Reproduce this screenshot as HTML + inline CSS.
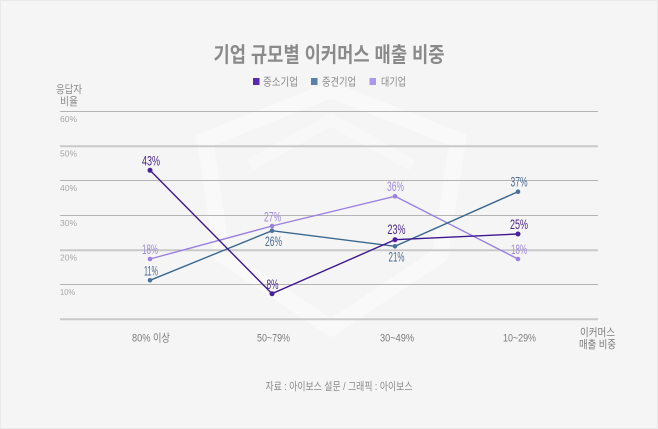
<!DOCTYPE html>
<html>
<head>
<meta charset="utf-8">
<style>
  html,body{margin:0;padding:0;background:#f5f5f5;}
  body{width:658px;height:429px;overflow:hidden;}
  svg{display:block;}
  text{font-family:"Liberation Sans","Noto Sans CJK KR",sans-serif;}
</style>
</head>
<body>
<svg width="658" height="429" viewBox="0 0 658 429" xmlns="http://www.w3.org/2000/svg">
  <rect x="0" y="0" width="658" height="429" fill="#f5f5f5"/>
  <rect x="0.5" y="0.5" width="657" height="428" fill="none" stroke="#e9e9e9" stroke-width="1"/>

  <!-- faint watermark -->
  <g fill="none" stroke="#f9f9f9" stroke-width="16" stroke-linejoin="miter">
    <polygon points="205,140 331,90 458,140 440,255 331,328 222,255"/>
  </g>
  <g fill="none" stroke="#f8f8f8" stroke-width="12">
    <polyline points="250,165 331,120 412,165"/>
  </g>

  <!-- title -->
  <text x="329" y="62" text-anchor="middle" font-size="21" font-weight="bold" fill="#8a8a8a" textLength="231" lengthAdjust="spacingAndGlyphs">기업 규모별 이커머스 매출 비중</text>

  <!-- legend -->
  <rect x="253" y="78" width="6.5" height="7" fill="#5a2bb0"/>
  <text x="263" y="85.5" font-size="11" fill="#8a8a8a" textLength="35" lengthAdjust="spacingAndGlyphs">중소기업</text>
  <rect x="311" y="78" width="6.5" height="7" fill="#5a7fa8"/>
  <text x="322" y="85.5" font-size="11" fill="#8a8a8a" textLength="34" lengthAdjust="spacingAndGlyphs">중견기업</text>
  <rect x="369.5" y="78" width="6.5" height="7" fill="#ab98ea"/>
  <text x="381" y="85.5" font-size="11" fill="#8a8a8a" textLength="25" lengthAdjust="spacingAndGlyphs">대기업</text>

  <!-- y axis title -->
  <text x="69" y="93" text-anchor="middle" font-size="11" fill="#8a8a8a" textLength="26" lengthAdjust="spacingAndGlyphs">응답자</text>
  <text x="69" y="105" text-anchor="middle" font-size="11" fill="#8a8a8a" textLength="18" lengthAdjust="spacingAndGlyphs">비율</text>

  <!-- gridlines -->
  <g stroke="#b4b4b4" stroke-width="1">
    <line x1="60" y1="111.5" x2="598" y2="111.5"/>
    <line x1="60" y1="146" x2="598" y2="146"/>
    <line x1="60" y1="180.5" x2="598" y2="180.5"/>
    <line x1="60" y1="215.5" x2="598" y2="215.5"/>
    <line x1="60" y1="250" x2="598" y2="250"/>
    <line x1="60" y1="284.5" x2="598" y2="284.5"/>
    <line x1="60" y1="319" x2="598" y2="319"/>
  </g>
  <g stroke="#dedede" stroke-width="1">
    <line x1="60" y1="147" x2="598" y2="147"/>
    <line x1="60" y1="251" x2="598" y2="251"/>
    <line x1="60" y1="320" x2="598" y2="320"/>
  </g>

  <!-- y tick labels -->
  <g font-size="8.5" fill="#a6a6a6">
    <text x="60" y="122" textLength="17" lengthAdjust="spacingAndGlyphs">60%</text>
    <text x="60" y="156.5" textLength="17" lengthAdjust="spacingAndGlyphs">50%</text>
    <text x="60" y="191" textLength="17" lengthAdjust="spacingAndGlyphs">40%</text>
    <text x="60" y="226" textLength="17" lengthAdjust="spacingAndGlyphs">30%</text>
    <text x="60" y="260.5" textLength="17" lengthAdjust="spacingAndGlyphs">20%</text>
    <text x="60" y="295" textLength="15" lengthAdjust="spacingAndGlyphs">10%</text>
  </g>

  <!-- series: 대기업 (light purple) -->
  <polyline points="150,259 272,226 395,196.3 518,259" fill="none" stroke="#9b80e2" stroke-width="1.4"/>
  <g fill="#9b80e2">
    <circle cx="150" cy="259" r="2.3"/><circle cx="272" cy="226" r="2.3"/>
    <circle cx="395" cy="196.3" r="2.3"/><circle cx="518" cy="259" r="2.3"/>
  </g>

  <!-- series: 중견기업 (steel blue) -->
  <polyline points="150,280.3 272,230.7 395,246.3 518,191.7" fill="none" stroke="#3b6890" stroke-width="1.4"/>
  <g fill="#4a729a">
    <circle cx="150" cy="280.3" r="2.3"/><circle cx="272" cy="230.7" r="2.3"/>
    <circle cx="395" cy="246.3" r="2.3"/><circle cx="518" cy="191.7" r="2.3"/>
  </g>

  <!-- series: 중소기업 (dark purple) -->
  <polyline points="150,170.3 272,293.7 395,239.7 518,234" fill="none" stroke="#3f1890" stroke-width="1.4"/>
  <g fill="#4a1f9a">
    <circle cx="150" cy="170.3" r="2.5"/><circle cx="272" cy="293.7" r="2.5"/>
    <circle cx="395" cy="239.7" r="2.5"/><circle cx="518" cy="234" r="2.5"/>
  </g>

  <!-- data labels -->
  <g font-size="13.5" text-anchor="middle">
    <text x="151" y="165.5" fill="#4a2690" textLength="18" lengthAdjust="spacingAndGlyphs">43%</text>
    <text x="150" y="254" fill="#a08ae2" textLength="16" lengthAdjust="spacingAndGlyphs">18%</text>
    <text x="151" y="275.5" fill="#4a6a92" textLength="14" lengthAdjust="spacingAndGlyphs">11%</text>

    <text x="272.5" y="221.5" fill="#a08ae2" textLength="17" lengthAdjust="spacingAndGlyphs">27%</text>
    <text x="273.5" y="246" fill="#4a6a92" textLength="17" lengthAdjust="spacingAndGlyphs">26%</text>
    <text x="272.5" y="289" fill="#4a2690" textLength="12" lengthAdjust="spacingAndGlyphs">8%</text>

    <text x="395.5" y="191" fill="#a08ae2" textLength="17" lengthAdjust="spacingAndGlyphs">36%</text>
    <text x="396.5" y="234" fill="#4a2690" textLength="18" lengthAdjust="spacingAndGlyphs">23%</text>
    <text x="396.5" y="261.5" fill="#4a6a92" textLength="16" lengthAdjust="spacingAndGlyphs">21%</text>

    <text x="519" y="186.5" fill="#4a6a92" textLength="17" lengthAdjust="spacingAndGlyphs">37%</text>
    <text x="519" y="229" fill="#4a2690" textLength="18" lengthAdjust="spacingAndGlyphs">25%</text>
    <text x="519" y="254" fill="#a08ae2" textLength="16" lengthAdjust="spacingAndGlyphs">18%</text>
  </g>

  <!-- x labels -->
  <g font-size="11" fill="#7c7c7c" text-anchor="middle">
    <text x="151" y="341.5" textLength="38" lengthAdjust="spacingAndGlyphs">80% 이상</text>
    <text x="273.5" y="341.5" textLength="33" lengthAdjust="spacingAndGlyphs">50~79%</text>
    <text x="397" y="341.5" textLength="34" lengthAdjust="spacingAndGlyphs">30~49%</text>
    <text x="519.5" y="341.5" textLength="33" lengthAdjust="spacingAndGlyphs">10~29%</text>
    <text x="597.5" y="336" textLength="35" lengthAdjust="spacingAndGlyphs">이커머스</text>
    <text x="597.5" y="348" textLength="37" lengthAdjust="spacingAndGlyphs">매출 비중</text>
  </g>

  <!-- source -->
  <text x="339" y="390" text-anchor="middle" font-size="11" fill="#8a8a8a" textLength="147" lengthAdjust="spacingAndGlyphs">자료 : 아이보스 설문 / 그래픽 : 아이보스</text>
</svg>
</body>
</html>
